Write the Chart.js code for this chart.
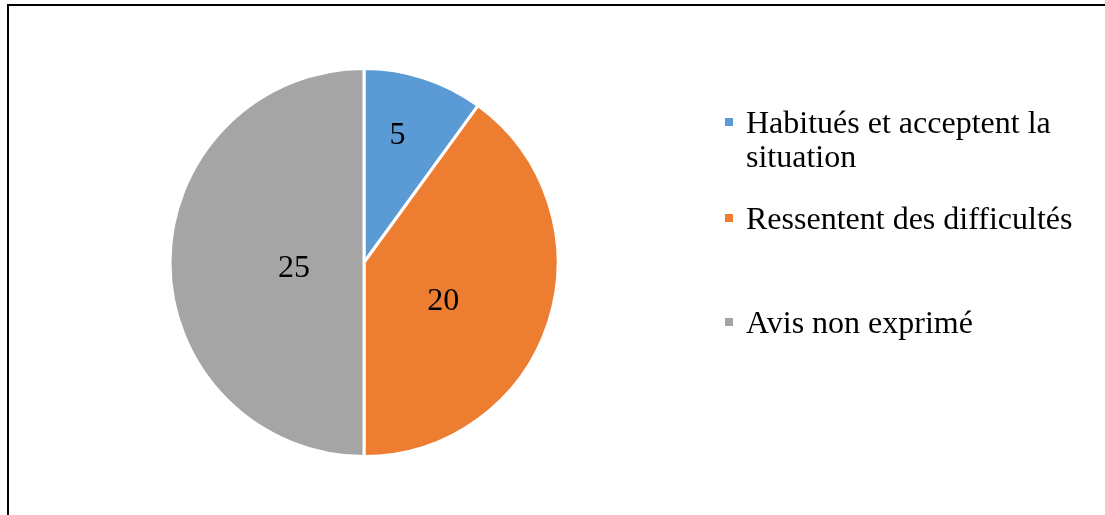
<!DOCTYPE html>
<html>
<head>
<meta charset="utf-8">
<script src="https://cdn.jsdelivr.net/npm/chart.js@4"></script>
<style>
  html, body { margin: 0; padding: 0; background: #fff; }
  #wrap { position: relative; width: 1105px; height: 515px; overflow: hidden; }
  #cadre { position: absolute; left: 7px; top: 4px; width: 1200px; height: 600px;
           border-left: 2px solid #000; border-top: 2px solid #000; }
  #graf { position: absolute; left: 0; top: 0; }
  #legende { position: absolute; left: 725px; top: 0; width: 370px;
             font-family: "Liberation Serif", "Times New Roman", serif; font-size: 32px; color: #000; }
  .item { position: absolute; left: 0; width: 360px; }
  .carre { position: absolute; left: 0; width: 8px; height: 8px; }
  .texte { position: absolute; left: 21px; width: 335px; line-height: 34px; }
</style>
</head>
<body>
<div id="wrap">
  <div id="cadre"></div>
  <canvas id="graf" width="1105" height="515"></canvas>
  <div id="legende"></div>
</div>
<script>
// Données
const categories = ['Habitués et acceptent la situation', 'Ressentent des difficultés', 'Avis non exprimé'];
const valeurs = [5, 20, 25];
const couleurs = ['#5B9BD5', '#ED7D31', '#A5A5A5'];

// légende à droite (centre vertical de chaque carré)
const centresLegende = [122, 218, 322];
const leg = document.getElementById('legende');
categories.forEach((c, i) => {
    const it = document.createElement('div');
    it.className = 'item';
    it.style.top = (centresLegende[i] - 17) + 'px';
    it.innerHTML = `<div class="carre" style="background:${couleurs[i]};top:13px"></div><div class="texte">${c}</div>`;
    leg.appendChild(it);
});

// étiquettes de valeurs près du centroïde de chaque secteur
const etiquettes = {
    id: 'etiquettes',
    afterDatasetsDraw(chart) {
        const ctx = chart.ctx;
        const meta = chart.getDatasetMeta(0);
        ctx.save();
        ctx.font = '32px "Liberation Serif", "Times New Roman", serif';
        ctx.fillStyle = '#000';
        ctx.textAlign = 'center';
        ctx.textBaseline = 'middle';
        meta.data.forEach((arc, i) => {
            const p = arc.getProps(['x', 'y', 'startAngle', 'endAngle', 'outerRadius']);
            const a = p.endAngle - p.startAngle;
            const mid = (p.startAngle + p.endAngle) / 2;
            const d = 4 * p.outerRadius * Math.sin(a / 2) / (3 * a);
            // un peu resserré en x, étiré en y, comme le placement d'Excel
            ctx.fillText(String(valeurs[i]), p.x + 0.85 * d * Math.cos(mid), p.y + 1.1 * d * Math.sin(mid) + 6);
        });
        ctx.restore();
    }
};

new Chart(document.getElementById('graf'), {
    type: 'pie',
    data: {
        labels: categories,
        datasets: [{ data: valeurs, backgroundColor: couleurs, borderColor: '#fff', borderWidth: 3 }]
    },
    options: {
        responsive: false,
        animation: false,
        events: [],
        layout: { padding: { left: 168, top: 67, right: 545, bottom: 57 } },
        plugins: { legend: { display: false }, tooltip: { enabled: false } }
    },
    plugins: [etiquettes]
});
</script>
</body>
</html>
